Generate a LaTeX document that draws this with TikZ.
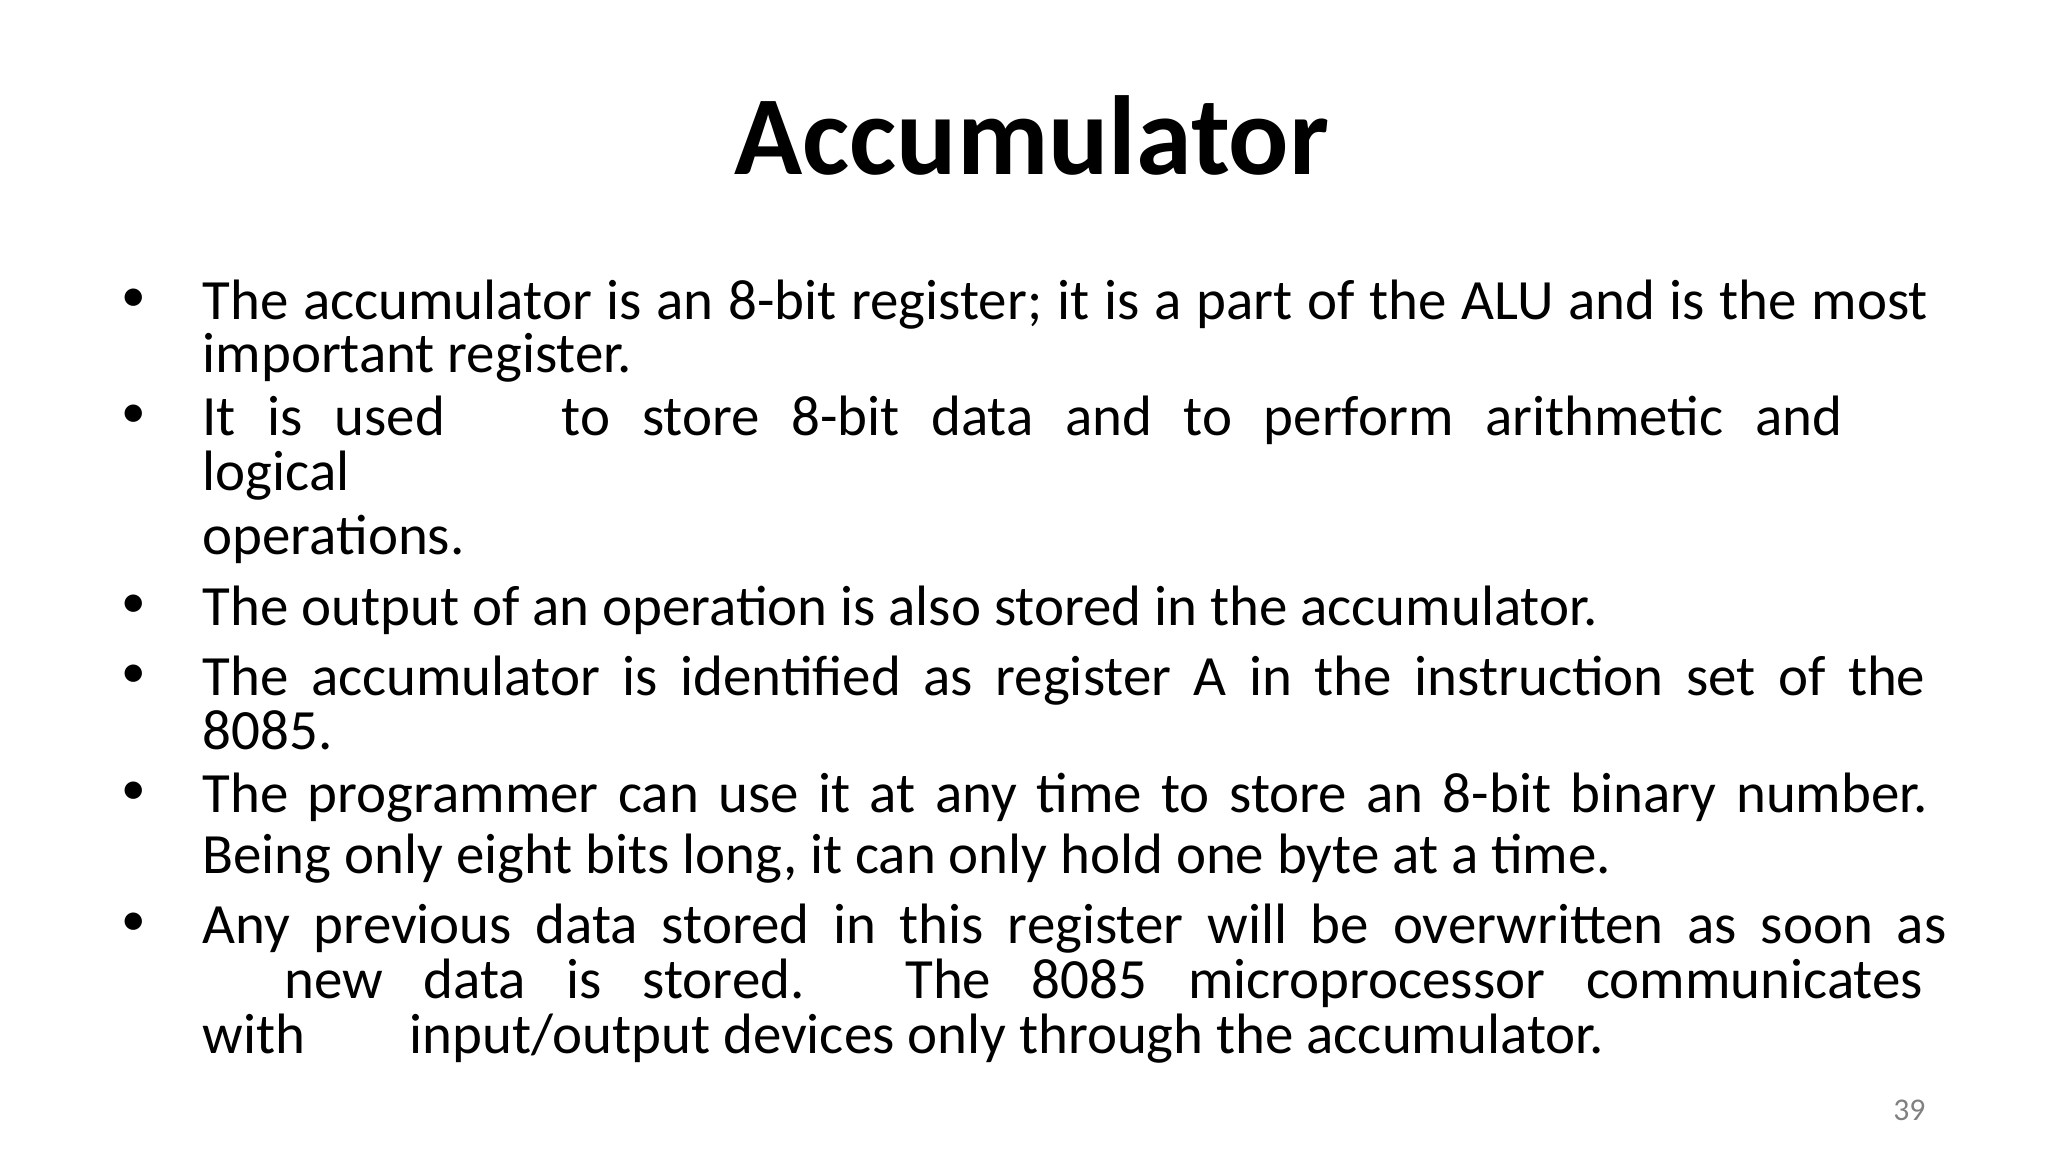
\documentclass[tikz,border=0pt]{standalone}
\usepackage{fontspec}
\setmainfont{Carlito}
\begin{document}
\begin{tikzpicture}[x=0.013196cm,y=-0.013196cm,
  ln/.style={anchor=base west,inner sep=0pt,font=\fontsize{16.2}{20}\selectfont},
  bl/.style={anchor=base,inner sep=0pt,font=\fontsize{14}{16}\selectfont}]
\useasboundingbox (0,0) rectangle (1552,873);
\newcommand\jl[2]{\hbox to #1\dimexpr0.13196mm\relax{#2}}
\node[anchor=base,inner sep=0pt,font=\fontsize{32}{36}\selectfont\bfseries] (title) at (782,132) {Accumulator};
\foreach \y [count=\i] in {236,324,468,521,610,709}
  \node[bl] (b\i) at (101,\y) {•};
\node[ln] (l1) at (153,242) {\jl{1308}{The accumulator is an 8-bit register; it is a part of the ALU and is the most}};
\node[ln] (l2) at (153,282) {important register.};
\node[ln] (l3) at (153,330) {\jl{1243}{It is used\hspace{1.5em} to store 8-bit data and to perform arithmetic and}};
\node[ln] (l4) at (153,372) {logical};
\node[ln] (l5) at (153,420) {operations.};
\node[ln] (l6) at (153,474) {The output of an operation is also stored in the accumulator.};
\node[ln] (l7) at (153,527) {\jl{1306}{The accumulator is identified as register A in the instruction set of the}};
\node[ln] (l8) at (153,568) {8085.};
\node[ln] (l9) at (153,616) {\jl{1308}{The programmer can use it at any time to store an 8-bit binary number.}};
\node[ln] (l10) at (153,662) {Being only eight bits long, it can only hold one byte at a time.};
\node[ln] (l11) at (153,715) {\jl{1322}{Any previous data stored in this register will be overwritten as soon as}};
\node[ln] (l12) at (215,757) {\jl{1242}{new data is stored. The 8085 microprocessor communicates}};
\node[ln] (l13a) at (153,798) {with};
\node[ln] (l13b) at (310,798) {input/output devices only through the accumulator.};
\node[anchor=base,inner sep=0pt,font=\fontsize{9}{11}\selectfont,text=gray] (pg) at (1447,849) {39};
\end{tikzpicture}
\end{document}
